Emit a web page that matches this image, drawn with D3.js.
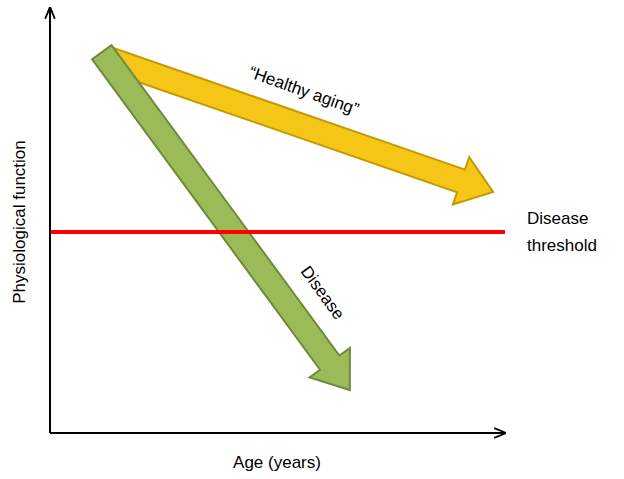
<!DOCTYPE html>
<html><head><meta charset="utf-8">
<script src="https://cdn.jsdelivr.net/npm/d3@7"></script>
<style>body{margin:0;background:#fff}text{font-family:"Liberation Sans",Arial,sans-serif;font-size:17px}</style>
</head><body>
<script>
"use strict"
// conceptual data (age %, function %)
var arrowNames = ["Healthy aging", "Disease"];
var arrowStart = [[12.3, 88.2], [11.4, 89.6]];
var arrowEnd = [[97.4, 56.7], [65.9, 10.1]];
var arrowFill = ["#F5C518", "#9BBB59"];
var arrowStroke = ["#C49A00", "#6E8A3A"];
var threshold = 47.3;

var svg = d3.select("body").append("svg").attr("width", 624).attr("height", 479);
var x = d3.scaleLinear().domain([0, 100]).range([50, 505]);
var y = d3.scaleLinear().domain([0, 100]).range([433, 8]);

function arrowPath(p0, p1, sw, hw, hl) {
    var dx = p1[0] - p0[0], dy = p1[1] - p0[1], L = Math.hypot(dx, dy);
    var ux = dx / L, uy = dy / L, nx = -uy, ny = ux;
    var bx = p1[0] - ux * hl, by = p1[1] - uy * hl;
    var pts = [
        [p0[0] + nx * sw / 2, p0[1] + ny * sw / 2],
        [bx + nx * sw / 2, by + ny * sw / 2],
        [bx + nx * hw / 2, by + ny * hw / 2],
        p1,
        [bx - nx * hw / 2, by - ny * hw / 2],
        [bx - nx * sw / 2, by - ny * sw / 2],
        [p0[0] - nx * sw / 2, p0[1] - ny * sw / 2]];
    return "M" + pts.map(function (p) { return p.join(","); }).join("L") + "Z";
}

arrowNames.forEach(function (n, i) {
    svg.append("path")
        .attr("d", arrowPath([x(arrowStart[i][0]), y(arrowStart[i][1])], [x(arrowEnd[i][0]), y(arrowEnd[i][1])], 24, 50, 34))
        .attr("fill", arrowFill[i]).attr("stroke", arrowStroke[i]).attr("stroke-width", 2);
});

// threshold line
svg.append("line").attr("x1", x(0)).attr("x2", x(100)).attr("y1", y(threshold)).attr("y2", y(threshold))
    .attr("stroke", "#FF0000").attr("stroke-width", 4);

// axes
var defs = svg.append("defs");
defs.append("marker").attr("id", "ah").attr("viewBox", "0 0 10 10").attr("refX", 9).attr("refY", 5)
    .attr("markerWidth", 6).attr("markerHeight", 6).attr("orient", "auto")
    .append("path").attr("d", "M0,1L10,5L0,9").attr("fill", "none").attr("stroke", "#000").attr("stroke-width", 1.5);
svg.append("line").attr("x1", x(0)).attr("y1", y(0)).attr("x2", x(0)).attr("y2", y(100))
    .attr("stroke", "#000").attr("stroke-width", 2).attr("marker-end", "url(#ah)");
svg.append("line").attr("x1", x(0)).attr("y1", y(0)).attr("x2", x(100)).attr("y2", y(0))
    .attr("stroke", "#000").attr("stroke-width", 2).attr("marker-end", "url(#ah)");

svg.append("text").attr("x", 277).attr("y", 468).attr("text-anchor", "middle").text("Age (years)");
svg.append("text").attr("transform", "translate(25,222) rotate(-90)").attr("text-anchor", "middle").text("Physiological function");
svg.append("text").attr("x", 527).attr("y", 224).text("Disease");
svg.append("text").attr("x", 527).attr("y", 251).text("threshold");
svg.append("text").attr("transform", "translate(302,96) rotate(19.5)").attr("text-anchor", "middle").text("\u201cHealthy  aging\u201d");
svg.append("text").attr("transform", "translate(318,296) rotate(54)").attr("text-anchor", "middle").text("Disease");
</script>
</body></html>
